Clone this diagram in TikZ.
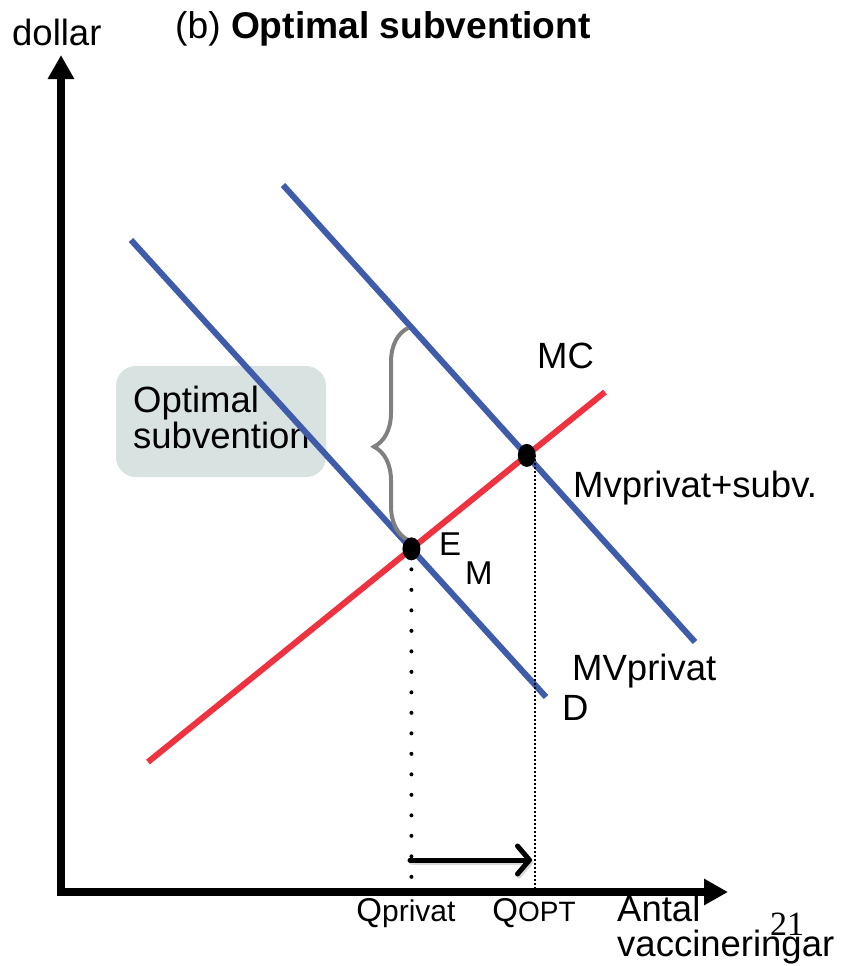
\documentclass[tikz,border=0pt]{standalone}
\usepackage{fontspec}
\setmainfont{Liberation Sans}
\newfontfamily\serifnum{Liberation Serif}
\usetikzlibrary{arrows.meta,shapes.geometric,decorations.pathreplacing}
\definecolor{curveblue}{RGB}{62,92,170}
\definecolor{curvered}{RGB}{238,50,64}
\definecolor{bracegray}{RGB}{128,128,128}
\definecolor{boxfill}{RGB}{216,226,224}
\begin{document}
\begin{tikzpicture}[x=1pt,y=-1pt,
  lbl/.style={font=\fontsize{36.5}{40}\selectfont, inner sep=0pt},
  smalllbl/.style={font=\fontsize{33}{36}\selectfont, inner sep=0pt},
  curve/.style={line width=6pt},
  axisline/.style={line width=8pt, line join=miter, {Triangle[width=25pt,length=24pt]}-{Triangle[width=25pt,length=24pt]}},
  eqdot/.style={ellipse, fill=black, minimum width=18pt, minimum height=23pt, inner sep=0pt},
  subvbox/.style={fill=boxfill, rounded corners=20pt, minimum width=210pt, minimum height=111pt, inner sep=0pt},
  shiftarrow/.style={line width=5pt, line cap=round, -{Straight Barb[length=12pt,width=28pt,round]}},
]
\useasboundingbox (0,0) rectangle (843,966);
% axes
\coordinate (O) at (61,892);
\coordinate (ytop) at (61,55);
\coordinate (xend) at (728,892);
\draw[axisline] (ytop) -- (O) -- (xend);
% box
\node[subvbox] (subbox) at (221,421.5) {};
\node[lbl, anchor=base west] (subtxt1) at (133,412) {Optimal};
\node[lbl, anchor=base west] (subtxt2) at (133,448) {subvention};
% curves
\coordinate (d1) at (131,240);
\coordinate (d2) at (546,697);
\coordinate (s1) at (283,185);
\coordinate (s2) at (695,642);
\coordinate (m1) at (148,762);
\coordinate (m2) at (605,392);
\draw[curve, curveblue] (d1) -- (d2);
\draw[curve, curveblue] (s1) -- (s2);
\draw[curve, curvered] (m1) -- (m2);
\coordinate (EM) at (intersection of d1--d2 and m1--m2);
\coordinate (EO) at (intersection of s1--s2 and m1--m2);
% dotted guides
\coordinate (qpfoot) at (EM |- O);
\draw[line width=4pt, line cap=round, dash pattern=on 0pt off 20.5pt] (EM) -- (qpfoot);
\path (EO) ++(8,0) coordinate (qotop);
\coordinate (qofoot) at (qotop |- O);
\draw[line width=2pt, dash pattern=on 2pt off 2pt] (qotop) -- (qofoot);
% shift arrow (with faint shadow)
\coordinate (a1) at (410,860);
\coordinate (a2) at (532,860);
\draw[shiftarrow, black!25, opacity=0.6, transform canvas={shift={(1.5pt,-2pt)}}] (a1) -- (a2);
\draw[shiftarrow] (a1) -- (a2);
% brace
\coordinate (b1) at (408,540);
\coordinate (b2) at (408,328);
\draw[bracegray, line width=4pt, decorate, decoration={brace, amplitude=34pt, aspect=0.44}] (b1) -- (b2);
% equilibrium dots
\node[eqdot] (emdot) at (EM) {};
\node[eqdot] (eodot) at (EO) {};
% labels
\node[lbl, anchor=base west] (mclab) at (537,368) {MC};
\node[lbl, anchor=base west] (mvslab) at (573,497) {Mvprivat+subv.};
\node[lbl, anchor=base west] (mvplab) at (572,680) {MVprivat};
\node[lbl, anchor=base west] (dlab) at (562,720) {D};
\node[smalllbl, anchor=base west] (elab) at (439,555) {E};
\node[smalllbl, anchor=base west] (mlab) at (465,584) {M};
\node[lbl, anchor=base west] (dollar) at (12,46) {dollar};
\node[anchor=base west, inner sep=0pt, font=\fontsize{37.2}{40}\selectfont] (title) at (175,38) {(b) \textbf{Optimal subventiont}};
\node[lbl, anchor=base west] (antal) at (617,921) {Antal};
\node[lbl, anchor=base west] (vacc) at (617,956) {vaccineringar};
\node[anchor=base west, inner sep=0pt, font=\serifnum\fontsize{34}{36}\selectfont] (pagenum) at (770,935) {21};
\node[anchor=base, inner sep=0pt] (qplab) at (406,921) {{\fontsize{33}{36}\selectfont Q}{\fontsize{30}{34}\selectfont privat}};
\node[anchor=base, inner sep=0pt] (qolab) at (534,921) {{\fontsize{33}{36}\selectfont Q}{\fontsize{28}{32}\selectfont OPT}};
\end{tikzpicture}
\end{document}
